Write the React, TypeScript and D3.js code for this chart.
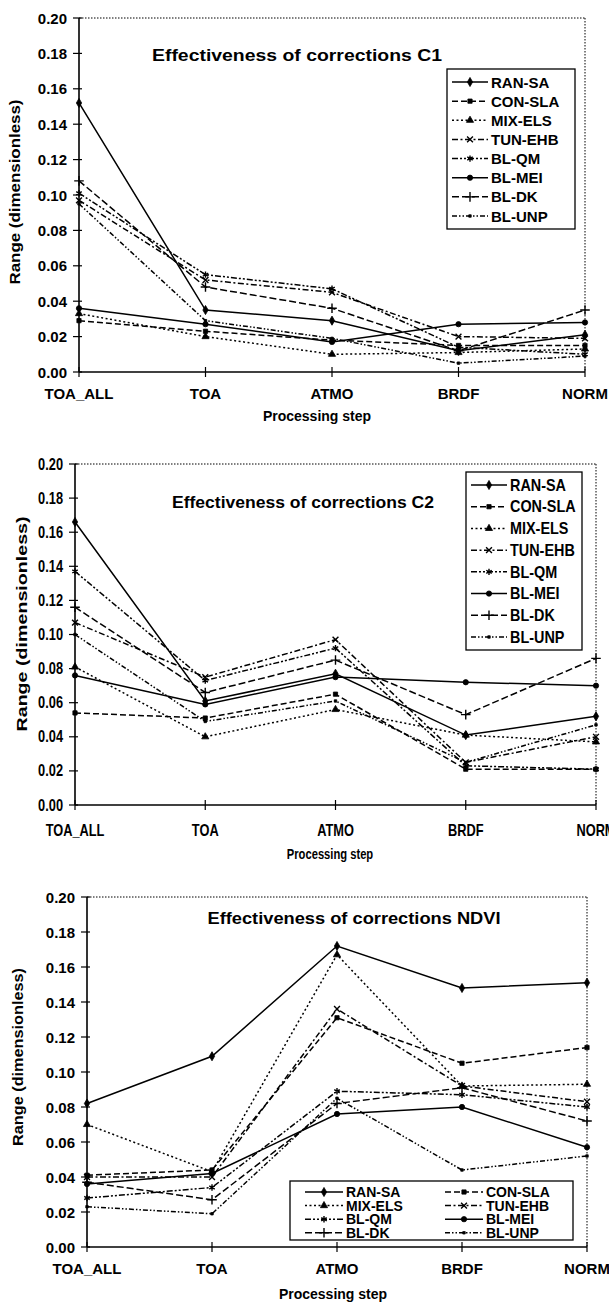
import React from 'react'
import * as d3 from 'd3'

// processing steps on the x axis
const steps = ['TOA_ALL', 'TOA', 'ATMO', 'BRDF', 'NORM']
const seriesNames = ['RAN-SA', 'CON-SLA', 'MIX-ELS', 'TUN-EHB', 'BL-QM', 'BL-MEI', 'BL-DK', 'BL-UNP']
const yTickValues = [0, 0.02, 0.04, 0.06, 0.08, 0.1, 0.12, 0.14, 0.16, 0.18, 0.2]

// range values, one row per site (same order as seriesNames)
const c1Ranges = [
  [0.152, 0.035, 0.029, 0.012, 0.021],
  [0.029, 0.023, 0.018, 0.015, 0.015],
  [0.033, 0.020, 0.010, 0.011, 0.013],
  [0.097, 0.052, 0.045, 0.020, 0.019],
  [0.101, 0.055, 0.047, 0.014, 0.010],
  [0.036, 0.027, 0.017, 0.027, 0.028],
  [0.108, 0.048, 0.036, 0.012, 0.035],
  [0.095, 0.029, 0.019, 0.005, 0.009],
]

const c2Ranges = [
  [0.166, 0.061, 0.077, 0.041, 0.052],
  [0.054, 0.051, 0.065, 0.021, 0.021],
  [0.081, 0.040, 0.056, 0.041, 0.037],
  [0.107, 0.075, 0.097, 0.025, 0.040],
  [0.137, 0.073, 0.092, 0.023, 0.021],
  [0.076, 0.059, 0.075, 0.072, 0.070],
  [0.116, 0.066, 0.085, 0.053, 0.086],
  [0.100, 0.049, 0.061, 0.025, 0.047],
]

const ndviRanges = [
  [0.082, 0.109, 0.172, 0.148, 0.151],
  [0.041, 0.044, 0.131, 0.105, 0.114],
  [0.070, 0.043, 0.167, 0.092, 0.093],
  [0.040, 0.040, 0.136, 0.092, 0.083],
  [0.028, 0.034, 0.089, 0.087, 0.080],
  [0.036, 0.042, 0.076, 0.080, 0.057],
  [0.037, 0.027, 0.082, 0.091, 0.072],
  [0.023, 0.019, 0.085, 0.044, 0.052],
]

// line + marker look of each site
const dashes = ['', '6,3', '2,2.5', '6,2.5,2,2.5', '6,2,2,2,2,2', '', '7,3', '5,2,1.5,2,1.5,2']
const markers = [
  { type: d3.symbolDiamond, size: 24, fill: true },
  { type: d3.symbolSquare, size: 18, fill: true },
  { type: d3.symbolTriangle, size: 22, fill: true },
  { type: d3.symbolTimes, size: 24, fill: false },
  { type: d3.symbolAsterisk, size: 28, fill: false },
  { type: d3.symbolCircle, size: 22, fill: true },
  { type: d3.symbolPlus, size: 32, fill: false },
  { type: d3.symbolSquare, size: 6, fill: true },
]

const ARIAL = "'Liberation Sans', Arial, sans-serif"

function Marker({ i, x, y }: { i: number; x: number; y: number }) {
  const m = markers[i]
  const d = d3.symbol().type(m.type).size(m.size)() as string
  return (
    <path
      d={d}
      transform={`translate(${x},${y})`}
      fill={m.fill ? '#000' : 'none'}
      stroke="#000"
      strokeWidth={m.fill ? 0.8 : 1.4}
    />
  )
}

// text that can be squeezed horizontally (the C2 panel uses a condensed face)
function Txt({
  x, y, sq, anchor, size, weight, children,
}: {
  x: number; y: number; sq: number; anchor?: string; size: number; weight: number | string; children: React.ReactNode
}) {
  return (
    <g transform={`translate(${x},${y}) scale(${sq},1)`}>
      <text textAnchor={anchor || 'start'} dominantBaseline="central" fontSize={size} fontWeight={weight}>
        {children}
      </text>
    </g>
  )
}

type Panel = {
  values: number[][]
  title: string
  left: number
  right: number
  top: number
  bottom: number
  squeeze: number
  tickSize: number
  titleX: number
  titleY: number
  titleLen: number
  titleSize: number
  xLabelY: number
  xTitleX: number
  xTitleY: number
  yTitleX: number
  yTitleY: number
  yTitleLen: number
  legend: 'column' | 'grid'
  legendBox: [number, number, number, number]
  legendSize: number
}

function Chart({ p }: { p: Panel }) {
  const x = d3.scalePoint().domain(steps).range([p.left, p.right])
  const y = d3.scaleLinear().domain([0, 0.2]).range([p.bottom, p.top])
  const fmt = d3.format('.2f')
  const line = d3
    .line<number>()
    .x((_, j) => x(steps[j]) as number)
    .y((v) => y(v))

  const [bx, by, bw, bh] = p.legendBox

  let legendItems: { i: number; lx: number; ly: number; len: number }[] = []
  if (p.legend === 'column') {
    const rowH = (bh - 26) / 7
    legendItems = seriesNames.map((_, i) => ({ i, lx: bx + 5, ly: by + 13 + rowH * i, len: 36 }))
  } else {
    const rowH = 13.6
    legendItems = seriesNames.map((_, i) => ({
      i,
      lx: i % 2 === 0 ? bx + 15 : bx + 155,
      ly: by + 11 + rowH * Math.floor(i / 2),
      len: 38,
    }))
  }

  return (
    <g fontFamily={ARIAL}>
      {/* dotted frame on top and right */}
      <line x1={p.left} x2={p.right} y1={p.top} y2={p.top} stroke="#000" strokeWidth={1} strokeDasharray="1.5,1.5" />
      <line x1={p.right} x2={p.right} y1={p.top} y2={p.bottom} stroke="#000" strokeWidth={1} strokeDasharray="1.5,1.5" />

      {/* series */}
      {p.values.map((vals, i) => (
        <g key={i}>
          <path d={line(vals) as string} fill="none" stroke="#000" strokeWidth={1.5} strokeDasharray={dashes[i]} />
          {vals.map((v, j) => (
            <Marker key={j} i={i} x={x(steps[j]) as number} y={y(v)} />
          ))}
        </g>
      ))}

      {/* axes */}
      <line x1={p.left} x2={p.left} y1={p.top} y2={p.bottom} stroke="#000" strokeWidth={1.6} />
      <line x1={p.left} x2={p.right} y1={p.bottom} y2={p.bottom} stroke="#000" strokeWidth={1.6} />
      {yTickValues.map((t) => (
        <g key={t}>
          <line x1={p.left - 6} x2={p.left + 3} y1={y(t)} y2={y(t)} stroke="#000" strokeWidth={1.2} />
          <Txt x={p.left - 12} y={y(t)} sq={p.squeeze} anchor="end" size={p.tickSize} weight={700}>
            {fmt(t)}
          </Txt>
        </g>
      ))}
      {steps.map((s) => (
        <g key={s}>
          <line x1={x(s)} x2={x(s)} y1={p.bottom - 5} y2={p.bottom + 5} stroke="#000" strokeWidth={1.2} />
          <Txt x={x(s) as number} y={p.xLabelY} sq={p.squeeze} anchor="middle" size={p.tickSize} weight={700}>
            {s}
          </Txt>
        </g>
      ))}

      <Txt x={p.xTitleX} y={p.xTitleY} sq={p.squeeze} anchor="middle" size={14} weight="bold">
        Processing step
      </Txt>
      <text
        transform={`translate(${p.yTitleX},${p.yTitleY}) rotate(-90)`}
        textAnchor="middle"
        dominantBaseline="central"
        fontSize={15}
        fontWeight="bold"
        textLength={p.yTitleLen}
        lengthAdjust="spacingAndGlyphs"
      >
        Range (dimensionless)
      </text>

      <text
        x={p.titleX}
        y={p.titleY}
        textAnchor="middle"
        dominantBaseline="central"
        fontSize={p.titleSize}
        fontWeight="bold"
        textLength={p.titleLen}
        lengthAdjust="spacingAndGlyphs"
      >
        {p.title}
      </text>

      {/* legend */}
      <rect x={bx} y={by} width={bw} height={bh} fill="#fff" stroke="#000" strokeWidth={1.3} />
      {legendItems.map(({ i, lx, ly, len }) => (
        <g key={i}>
          <line x1={lx} x2={lx + len} y1={ly} y2={ly} stroke="#000" strokeWidth={1.5} strokeDasharray={dashes[i]} />
          <Marker i={i} x={lx + len / 2} y={ly} />
          <Txt x={lx + len + 3} y={ly} sq={p.squeeze < 1 ? 0.9 : 1} size={p.legendSize} weight={700}>
            {seriesNames[i]}
          </Txt>
        </g>
      ))}
    </g>
  )
}

const panels: Panel[] = [
  {
    values: c1Ranges,
    title: 'Effectiveness of corrections C1',
    left: 79,
    right: 585,
    top: 18,
    bottom: 372,
    squeeze: 1,
    tickSize: 15,
    titleX: 297,
    titleY: 55,
    titleLen: 290,
    titleSize: 17,
    xLabelY: 393,
    xTitleX: 317,
    xTitleY: 416,
    yTitleX: 14,
    yTitleY: 192,
    yTitleLen: 185,
    legend: 'column',
    legendBox: [447, 69, 128, 160],
    legendSize: 15,
  },
  {
    values: c2Ranges,
    title: 'Effectiveness of corrections C2',
    left: 75,
    right: 596,
    top: 464,
    bottom: 805,
    squeeze: 0.8,
    tickSize: 16,
    titleX: 303,
    titleY: 502,
    titleLen: 262,
    titleSize: 17,
    xLabelY: 830,
    xTitleX: 330,
    xTitleY: 855,
    yTitleX: 21,
    yTitleY: 624,
    yTitleLen: 215,
    legend: 'column',
    legendBox: [466, 472, 116, 178],
    legendSize: 16,
  },
  {
    values: ndviRanges,
    title: 'Effectiveness of corrections NDVI',
    left: 87,
    right: 587,
    top: 897,
    bottom: 1247,
    squeeze: 1,
    tickSize: 15,
    titleX: 354,
    titleY: 918,
    titleLen: 293,
    titleSize: 16,
    xLabelY: 1268,
    xTitleX: 333,
    xTitleY: 1294,
    yTitleX: 17,
    yTitleY: 1057,
    yTitleLen: 178,
    legend: 'grid',
    legendBox: [290, 1181, 283, 59],
    legendSize: 14,
  },
]

export default function App() {
  return (
    <svg
      width={609}
      height={1305}
      style={{ position: 'absolute', left: 0, top: 0, background: '#fff' }}
    >
      <rect width={609} height={1305} fill="#fff" />
      {panels.map((p, k) => (
        <Chart key={k} p={p} />
      ))}
    </svg>
  )
}
